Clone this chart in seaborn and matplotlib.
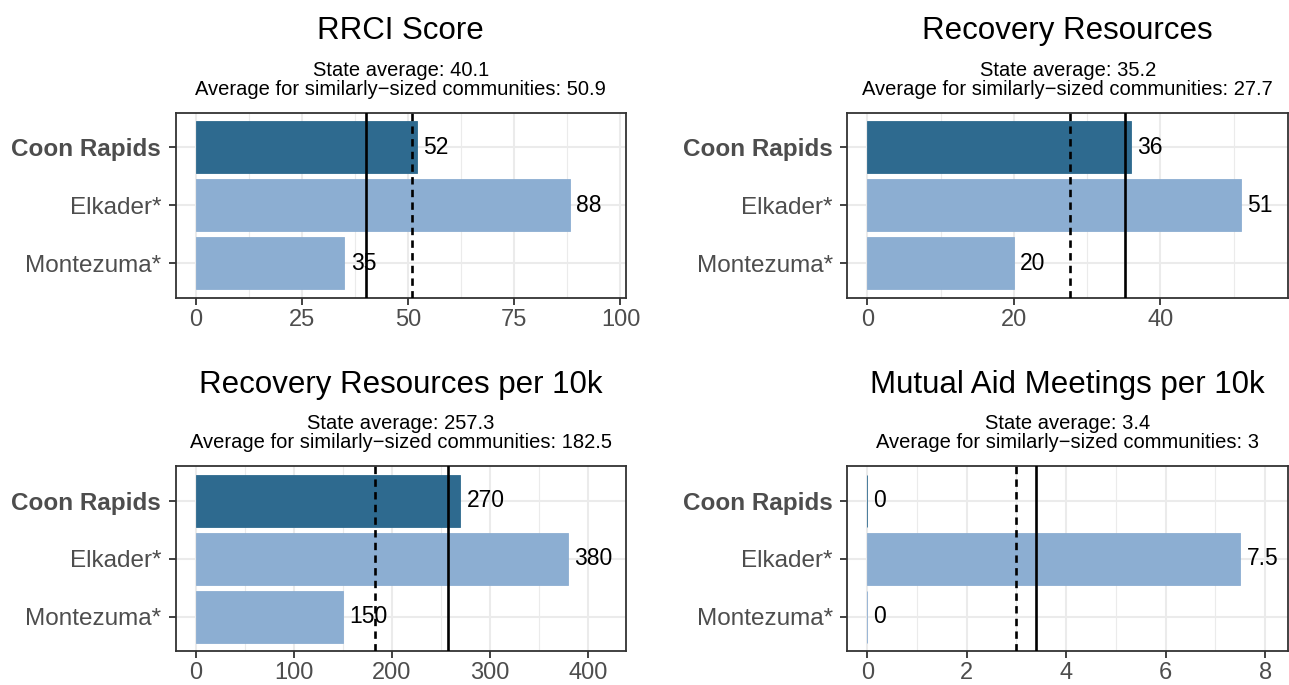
import pandas as pd
import matplotlib.pyplot as plt
from matplotlib.ticker import MultipleLocator
import seaborn as sns

# =========================
# DATA
# =========================

communities = ["Coon Rapids", "Elkader*", "Montezuma*"]

rrci_score = [52, 88, 35]
recovery_resources = [36, 51, 20]
resources_per_10k = [270, 380, 150]
meetings_per_10k = [0, 7.5, 0]

panel_titles = [
    "RRCI Score",
    "Recovery Resources",
    "Recovery Resources per 10k",
    "Mutual Aid Meetings per 10k",
]
state_avg = [40.1, 35.2, 257.3, 3.4]
similar_avg = [50.9, 27.7, 182.5, 3]

panel_values = [rrci_score, recovery_resources, resources_per_10k, meetings_per_10k]

# axis settings per panel: (xmin, xmax) and major step
x_limits = [(-4.7, 101.3), (-2.73, 57.4), (-20.4, 439), (-0.40, 8.46)]
x_steps = [25, 20, 100, 2]

palette = {"Coon Rapids": "#2E6A8F", "Elkader*": "#8CAED2", "Montezuma*": "#8CAED2"}

# =========================
# FIGURE
# =========================

sns.set_theme(style="white")
plt.rcParams["font.family"] = ["Liberation Sans", "DejaVu Sans"]

fig = plt.figure(figsize=(12.89, 6.85), dpi=100)

W, H = 1289, 685
# panel boxes in pixels: left, top, right, bottom
boxes = [
    (175.7, 112.7, 626, 297.7),
    (847.3, 112.7, 1288, 297.7),
    (175.7, 466.3, 626, 651.3),
    (847.3, 466.3, 1288, 651.3),
]

for i in range(4):
    l, t, r, b = boxes[i]
    ax = fig.add_axes([l / W, (H - b) / H, (r - l) / W, (b - t) / H])

    df = pd.DataFrame({"community": communities, "value": panel_values[i]})

    sns.barplot(
        data=df,
        x="value",
        y="community",
        hue="community",
        palette=palette,
        saturation=1,
        width=0.9,
        legend=False,
        ax=ax,
        zorder=2,
    )

    # thin edge so zero-width bars still show as a hairline
    for p in ax.patches:
        p.set_edgecolor(p.get_facecolor())
        p.set_linewidth(0.6)

    # value labels
    for j, v in enumerate(df["value"]):
        ax.annotate(
            f"{v:g}",
            xy=(v, j),
            xytext=(4.5, 0),
            textcoords="offset points",
            ha="left",
            va="center",
            fontsize=16.5,
            color="black",
            zorder=4,
        )

    # average lines
    ax.axvline(state_avg[i], color="black", lw=1.9, zorder=3)
    ax.axvline(similar_avg[i], color="black", lw=1.9, ls=(0, (2.8, 2.0)), zorder=3)

    ax.set_xlim(*x_limits[i])
    ax.set_ylim(2.6, -0.6)
    ax.xaxis.set_major_locator(MultipleLocator(x_steps[i]))
    ax.xaxis.set_minor_locator(MultipleLocator(x_steps[i] / 2))

    ax.grid(which="major", color="#EBEBEB", lw=1.5)
    ax.grid(which="minor", axis="x", color="#EBEBEB", lw=0.8)
    ax.set_axisbelow(True)

    for s in ax.spines.values():
        s.set_color("#333333")
        s.set_linewidth(1.3)

    ax.tick_params(which="major", direction="out", length=5, width=1.3,
                   color="#333333", labelcolor="#4D4D4D",
                   bottom=True, left=True)
    ax.tick_params(axis="x", labelsize=17, pad=3)
    ax.tick_params(axis="y", labelsize=17.5, pad=5.5)
    ax.tick_params(which="minor", length=0)

    ax.set_xlabel("")
    ax.set_ylabel("")
    ax.get_yticklabels()[0].set_fontweight("bold")

    # titles
    ax.annotate(panel_titles[i], xy=(0.5, 1), xycoords="axes fraction",
                xytext=(0, 53), textcoords="offset points",
                ha="center", va="baseline", fontsize=22.5, color="black")
    ax.annotate(
        f"State average: {state_avg[i]:g}\n"
        f"Average for similarly\u2212sized communities: {similar_avg[i]:g}",
        xy=(0.5, 1), xycoords="axes fraction",
        xytext=(0, 10), textcoords="offset points",
        ha="center", va="bottom", fontsize=14.5, color="black",
        linespacing=1.0,
    )

plt.savefig("out.png", dpi=100)
plt.close()
